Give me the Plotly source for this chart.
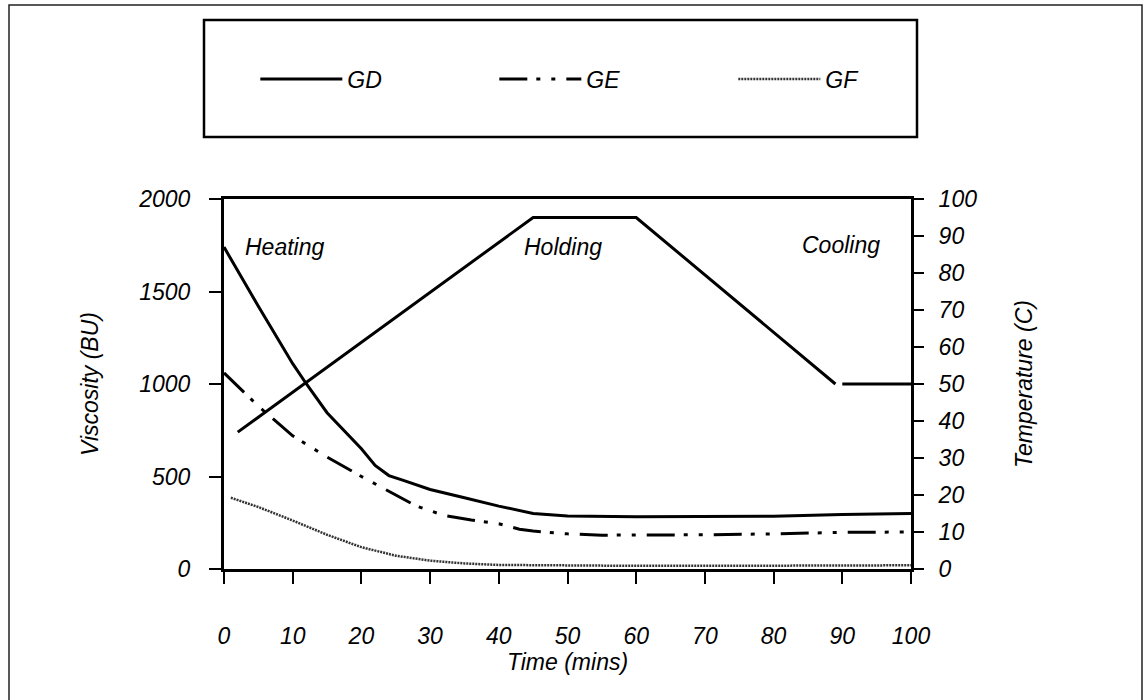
import plotly.graph_objects as go

# ---- data ----
time_gd = [0, 5, 10, 12, 15, 20, 22, 24, 26, 30, 35, 40, 45, 50, 60, 70, 80, 90, 100]
visc_gd = [1740, 1420, 1110, 1000, 845, 650, 560, 505, 480, 430, 385, 340, 300, 286, 283, 283, 285, 295, 300]

time_ge = [0, 5, 10, 15, 20, 25, 28, 32, 36, 40, 43, 45, 50, 55, 60, 70, 80, 90, 100]
visc_ge = [1060, 880, 720, 605, 500, 400, 340, 290, 265, 245, 215, 205, 190, 183, 183, 185, 190, 198, 200]

time_gf = [1, 5, 10, 15, 20, 25, 30, 35, 40, 50, 60, 80, 100]
visc_gf = [385, 335, 262, 185, 118, 72, 45, 30, 22, 18, 17, 18, 20]

time_temp = [2, 45, 60, 89, None, 90, 100]
temp_c = [37, 95, 95, 50, None, 50, 50]

x_ticks = list(range(0, 101, 10))
y_ticks = [0, 500, 1000, 1500, 2000]
y2_ticks = list(range(0, 101, 10))

phase_labels = ["Heating", "Holding", "Cooling"]
phase_x = [2.8, 43.4, 83.8]
phase_y = [1740, 1740, 1750]

FONT = "Liberation Sans, Arial, sans-serif"
ital = dict(family=FONT, size=23, color="black", style="italic")

fig = go.Figure()
fig.add_trace(go.Scatter(x=time_gd, y=visc_gd, name="GD", mode="lines",
                         line=dict(color="black", width=3)))
fig.add_trace(go.Scatter(x=time_ge, y=visc_ge, name="GE", mode="lines",
                         line=dict(color="black", width=3, dash="28px,9px,4px,11px,4px,11px")))
fig.add_trace(go.Scatter(x=time_gf, y=visc_gf, name="GF", mode="lines",
                         line=dict(color="#333333", width=2.5, dash="2px,1px")))
fig.add_trace(go.Scatter(x=time_temp, y=temp_c, name="Temperature", mode="lines",
                         yaxis="y2", showlegend=False, connectgaps=False,
                         line=dict(color="black", width=3)))

for lab, xx, yy in zip(phase_labels, phase_x, phase_y):
    fig.add_annotation(x=xx, y=yy, xref="x", yref="y", text=lab, showarrow=False,
                       xanchor="left", yanchor="middle", font=ital)

L, R, T, B = 224, 237, 199, 131
PW, PH = 1148 - L - R, 700 - T - B

def px(xp):
    return (xp - L) / PW

def py(yp):
    return (700 - B - yp) / PH

# outer frame
fig.add_shape(type="rect", xref="paper", yref="paper",
              x0=px(9), x1=px(1142), y0=py(720), y1=py(5),
              line=dict(color="#222222", width=1.5))
# legend box
fig.add_shape(type="rect", xref="paper", yref="paper",
              x0=px(204), x1=px(917), y0=py(137), y1=py(20),
              line=dict(color="black", width=2.5))

axis_common = dict(showline=True, linecolor="black", linewidth=3, showgrid=False,
                   zeroline=False, ticks="outside", tickcolor="black", tickwidth=2,
                   tickfont=ital)

fig.update_layout(
    width=1148, height=700,
    margin=dict(l=L, r=R, t=T, b=B),
    paper_bgcolor="white", plot_bgcolor="white",
    font=dict(family=FONT, color="black"),
    showlegend=True,
    legend=dict(orientation="h", x=-0.001, y=py(79), xanchor="left", yanchor="middle",
                indentation=32,
                entrywidth=110, entrywidthmode="pixels", itemwidth=82,
                font=ital, bgcolor="rgba(0,0,0,0)", borderwidth=0, traceorder="normal"),
    xaxis=dict(range=[0, 100], tickvals=x_ticks, ticklen=12, mirror=True,
               ticklabelstandoff=32,
               title=dict(text="Time (mins)", font=ital, standoff=2), **axis_common),
    yaxis=dict(range=[0, 2000], tickvals=y_ticks, ticklen=12, ticklabelstandoff=14,
               title=dict(text="Viscosity (BU)", font=ital, standoff=34), **axis_common),
    yaxis2=dict(range=[0, 100], tickvals=y2_ticks, ticklen=10, overlaying="y", side="right",
                ticklabelstandoff=10,
                title=dict(text="Temperature (C)", font=ital, standoff=40), **axis_common),
)

fig.write_html("out.html")
